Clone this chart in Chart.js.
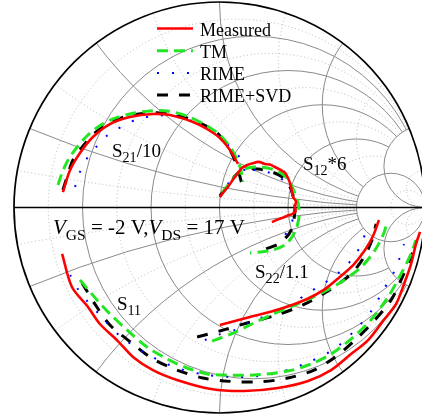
<!DOCTYPE html>
<html>
<head>
<meta charset="utf-8">
<script src="https://cdn.jsdelivr.net/npm/chart.js@4.4.0/dist/chart.umd.min.js"></script>
<style>
  html, body { margin: 0; padding: 0; background: #fff; }
  #wrap { width: 422px; height: 414px; }
</style>
</head>
<body>
<div id="wrap"><canvas id="smith" width="422" height="414"></canvas></div>
<script>
const s11Measured = [[-0.766,-0.226],[-0.718,-0.387],[-0.640,-0.484],[-0.582,-0.567],[-0.499,-0.645],[-0.421,-0.727],[-0.324,-0.791],[-0.207,-0.839],[-0.041,-0.883],[0.119,-0.893],[0.285,-0.878],[0.431,-0.844],[0.543,-0.791],[0.640,-0.713],[0.723,-0.645],[0.800,-0.547],[0.859,-0.470],[0.898,-0.372],[0.932,-0.275],[0.956,-0.178],[0.976,-0.119]]
const s11TM = [[-0.679,-0.353],[-0.596,-0.450],[-0.533,-0.518],[-0.450,-0.596],[-0.353,-0.679],[-0.255,-0.737],[-0.158,-0.781],[-0.061,-0.810],[0.007,-0.815],[0.168,-0.815],[0.333,-0.796],[0.445,-0.762],[0.543,-0.713],[0.640,-0.640],[0.737,-0.547],[0.820,-0.436],[0.883,-0.324],[0.932,-0.226],[0.956,-0.158]]
const s11Rime = [[-0.727,-0.328],[-0.689,-0.397],[-0.640,-0.460],[-0.582,-0.523],[-0.484,-0.625],[-0.353,-0.713],[-0.207,-0.781],[-0.061,-0.815],[0.100,-0.825],[0.260,-0.810],[0.411,-0.762],[0.557,-0.689],[0.674,-0.582],[0.742,-0.499],[0.800,-0.397],[0.844,-0.324],[0.873,-0.255],[0.898,-0.178]]
const s11Svd = [[-0.669,-0.367],[-0.606,-0.470],[-0.533,-0.572],[-0.421,-0.664],[-0.324,-0.737],[-0.207,-0.791],[-0.080,-0.830],[0.022,-0.844],[0.187,-0.849],[0.333,-0.830],[0.460,-0.791],[0.557,-0.732],[0.655,-0.650],[0.752,-0.552],[0.835,-0.450],[0.883,-0.353],[0.932,-0.241],[0.951,-0.182]]

const s21Measured = [[-0.762,0.075],[-0.727,0.182],[-0.679,0.265],[-0.616,0.343],[-0.533,0.406],[-0.436,0.440],[-0.324,0.455],[-0.241,0.450],[-0.129,0.416],[-0.061,0.382],[0.002,0.338],[0.051,0.280],[0.090,0.212]]
const s21TM = [[-0.786,0.109],[-0.766,0.168],[-0.737,0.231],[-0.693,0.294],[-0.645,0.348],[-0.591,0.392],[-0.518,0.431],[-0.436,0.455],[-0.338,0.470],[-0.255,0.470],[-0.158,0.445],[-0.061,0.397],[0.002,0.353],[0.061,0.280],[0.100,0.197],[0.114,0.124]]
const s21Rime = [[-0.703,0.100],[-0.679,0.173],[-0.640,0.246],[-0.596,0.299],[-0.543,0.353],[-0.470,0.397],[-0.397,0.431],[-0.314,0.445],[-0.231,0.450],[-0.158,0.431],[-0.095,0.401],[-0.022,0.363],[0.041,0.304],[0.100,0.241],[0.124,0.173]]
const s21Svd = [[-0.762,0.085],[-0.742,0.148],[-0.713,0.231],[-0.664,0.299],[-0.606,0.363],[-0.533,0.411],[-0.450,0.445],[-0.353,0.460],[-0.275,0.460],[-0.192,0.445],[-0.095,0.411],[-0.012,0.363],[0.051,0.280],[0.085,0.202],[0.109,0.114]]

const s12Measured = [[0.002,0.051],[0.022,0.078],[0.041,0.100],[0.060,0.128],[0.075,0.148],[0.095,0.175],[0.109,0.192],[0.135,0.207],[0.158,0.214],[0.190,0.222],[0.221,0.212],[0.245,0.209],[0.270,0.197],[0.297,0.183],[0.319,0.168],[0.335,0.140],[0.343,0.119],[0.350,0.090],[0.358,0.051],[0.372,0.030],[0.367,0.002],[0.370,-0.020],[0.353,-0.032],[0.330,-0.040],[0.304,-0.051],[0.280,-0.060],[0.255,-0.071]]
const s12TM = [[0.012,0.071],[0.061,0.134],[0.109,0.182],[0.173,0.197],[0.255,0.187],[0.319,0.153],[0.358,0.090],[0.382,0.022],[0.387,-0.046],[0.367,-0.119],[0.324,-0.178],[0.260,-0.207],[0.197,-0.217],[0.148,-0.221]]
const s12Rime = [[0.002,0.051],[0.036,0.109],[0.080,0.153],[0.129,0.178],[0.187,0.182],[0.246,0.168],[0.294,0.144],[0.328,0.114],[0.353,0.071],[0.363,0.022],[0.363,-0.032],[0.348,-0.080],[0.319,-0.134],[0.285,-0.168]]
const s12Svd = [[0.002,0.056],[0.032,0.095],[0.085,0.163],[0.139,0.187],[0.187,0.187],[0.255,0.173],[0.319,0.139],[0.353,0.075],[0.367,-0.002],[0.358,-0.080],[0.338,-0.129],[0.285,-0.178],[0.207,-0.207]]

const s22Measured = [[0.002,-0.572],[0.075,-0.552],[0.148,-0.533],[0.294,-0.494],[0.426,-0.445],[0.513,-0.397],[0.586,-0.338],[0.655,-0.275],[0.708,-0.207],[0.747,-0.139],[0.776,-0.061]]
const s22TM = [[-0.036,-0.650],[0.066,-0.611],[0.158,-0.567],[0.260,-0.518],[0.358,-0.479],[0.455,-0.436],[0.577,-0.372],[0.689,-0.290],[0.757,-0.207],[0.800,-0.124],[0.815,-0.071]]
const s22Rime = [[-0.071,-0.645],[-0.007,-0.620],[0.075,-0.596],[0.139,-0.562],[0.212,-0.533],[0.294,-0.504],[0.367,-0.460],[0.431,-0.416],[0.504,-0.372],[0.572,-0.324],[0.625,-0.275],[0.669,-0.217],[0.698,-0.158],[0.723,-0.085]]
const s22Svd = [[-0.109,-0.630],[0.002,-0.601],[0.134,-0.562],[0.280,-0.523],[0.406,-0.474],[0.528,-0.406],[0.640,-0.324],[0.703,-0.241],[0.742,-0.158],[0.762,-0.080]]

const models = ["Measured", "TM", "RIME", "RIME+SVD"]
const curves = [
    [s11Measured, s21Measured, s12Measured, s22Measured],
    [s11TM, s21TM, s12TM, s22TM],
    [s11Rime, s21Rime, s12Rime, s22Rime],
    [s11Svd, s21Svd, s12Svd, s22Svd]
]

// smith grid values (resistance and reactance)
const majorValues = [0.2, 0.5, 1, 2, 5]
const minorValues = [1 / 11, 1 / 3, 5 / 7, 7 / 5, 3, 11]
const gridLimit = 5

const modelStyles = [
    { color: "#ff0000", width: 2.6, dash: [] },
    { color: "#22e622", width: 3, dash: [11, 6] },
    { color: "#0000ff", width: 2, dash: [2, 13] },
    { color: "#000000", width: 3, dash: [11, 11] }
]

const serif = "'Liberation Serif', 'Times New Roman', serif"

const annotations = [
    { at: [-0.523, 0.246], size: 19, parts: [["S"], ["21", "sub"], ["/10"]] },
    { at: [0.406, 0.182], size: 19, parts: [["S"], ["12", "sub"], ["*6"]] },
    { at: [-0.810, -0.129], size: 21, parts: [["V", "it"], ["GS", "sub"], [" = -2 V,"], ["V", "it"], ["DS", "sub"], [" = 17 V"]] },
    { at: [0.173, -0.343], size: 19, parts: [["S"], ["22", "sub"], ["/1.1"]] },
    { at: [-0.499, -0.499], size: 19, parts: [["S"], ["11", "sub"]] }
]

const datasets = []
curves.forEach((group, m) => {
    const style = modelStyles[m]
    group.forEach((points) => {
        datasets.push({
            label: models[m],
            data: points.map((p) => ({ x: p[0], y: p[1] })),
            showLine: true,
            borderColor: style.color,
            backgroundColor: style.color,
            borderWidth: style.width,
            borderDash: style.dash,
            borderCapStyle: "butt",
            tension: 0.3,
            pointRadius: 0,
            fill: false
        })
    })
})

const smithGrid = {
    id: "smithGrid",
    beforeDatasetsDraw(chart) {
        const { ctx, scales: { x, y } } = chart
        const unit = x.getPixelForValue(1) - x.getPixelForValue(0)
        const cx = x.getPixelForValue(0)
        const cy = y.getPixelForValue(0)
        const rx = x.getPixelForValue(1)

        function clipDisk() {
            ctx.beginPath()
            ctx.arc(cx, cy, unit, 0, Math.PI * 2)
            ctx.clip()
        }
        function clipOutside(px, py, rad) {
            ctx.beginPath()
            ctx.rect(0, 0, chart.width, chart.height)
            ctx.arc(px, py, rad, 0, Math.PI * 2)
            ctx.clip("evenodd")
        }

        function drawSet(values, color, width, dash) {
            for (const v of values) {
                // constant resistance circle
                ctx.save()
                clipDisk()
                if (v < gridLimit) {
                    clipOutside(rx, y.getPixelForValue(1 / gridLimit), unit / gridLimit)
                    clipOutside(rx, y.getPixelForValue(-1 / gridLimit), unit / gridLimit)
                }
                ctx.strokeStyle = color
                ctx.lineWidth = width
                ctx.setLineDash(dash)
                ctx.beginPath()
                ctx.arc(x.getPixelForValue(v / (1 + v)), cy, unit / (1 + v), 0, Math.PI * 2)
                ctx.stroke()
                ctx.restore()

                // constant reactance arcs, both signs
                ctx.save()
                clipDisk()
                if (v < gridLimit) {
                    clipOutside(x.getPixelForValue(gridLimit / (1 + gridLimit)), cy, unit / (1 + gridLimit))
                }
                ctx.strokeStyle = color
                ctx.lineWidth = width
                ctx.setLineDash(dash)
                for (const s of [1, -1]) {
                    ctx.beginPath()
                    ctx.arc(rx, y.getPixelForValue(s / v), unit / v, 0, Math.PI * 2)
                    ctx.stroke()
                }
                ctx.restore()
            }
        }

        drawSet(minorValues, "#a8a8a8", 0.8, [1, 2.6])
        drawSet(majorValues, "#8a8a8a", 1, [])

        ctx.save()
        ctx.strokeStyle = "#000"
        ctx.lineWidth = 1.7
        ctx.setLineDash([])
        ctx.beginPath()
        ctx.moveTo(x.getPixelForValue(-1), cy)
        ctx.lineTo(rx, cy)
        ctx.stroke()
        ctx.beginPath()
        ctx.arc(cx, cy, unit, 0, Math.PI * 2)
        ctx.stroke()
        ctx.restore()
    }
}

const smithText = {
    id: "smithText",
    afterDatasetsDraw(chart) {
        const { ctx, scales: { x, y } } = chart
        ctx.save()
        ctx.fillStyle = "#000"
        ctx.textBaseline = "alphabetic"
        annotations.forEach((a) => {
            let px = x.getPixelForValue(a.at[0])
            const base = y.getPixelForValue(a.at[1])
            a.parts.forEach(([text, kind]) => {
                const size = kind === "sub" ? a.size * 0.74 : a.size
                ctx.font = (kind === "it" ? "italic " : "") + size + "px " + serif
                ctx.fillText(text, px, kind === "sub" ? base + a.size * 0.27 : base)
                px += ctx.measureText(text).width
            })
        })

        // legend, top middle of the chart
        const left = 157
        const top = 28.5
        const step = 22.2
        models.forEach((name, i) => {
            const style = modelStyles[i]
            const ly = top + i * step
            ctx.strokeStyle = style.color
            ctx.lineWidth = style.width
            ctx.setLineDash(style.dash)
            ctx.beginPath()
            ctx.moveTo(left, ly)
            ctx.lineTo(left + 36, ly)
            ctx.stroke()
            ctx.font = "18px " + serif
            ctx.fillText(name, left + 43, ly + 7)
        })
        ctx.restore()
    }
}

const smithChart = new Chart(document.getElementById("smith"), {
    type: "scatter",
    data: { datasets: datasets },
    options: {
        responsive: false,
        animation: false,
        layout: { padding: { left: 14, right: 0, top: 2, bottom: 1 } },
        scales: {
            x: { type: "linear", min: -1, max: 0.9854, display: false },
            y: { type: "linear", min: -1, max: 1, display: false }
        },
        plugins: {
            legend: { display: false },
            tooltip: { enabled: false }
        }
    },
    plugins: [smithGrid, smithText]
})
</script>
</body>
</html>
